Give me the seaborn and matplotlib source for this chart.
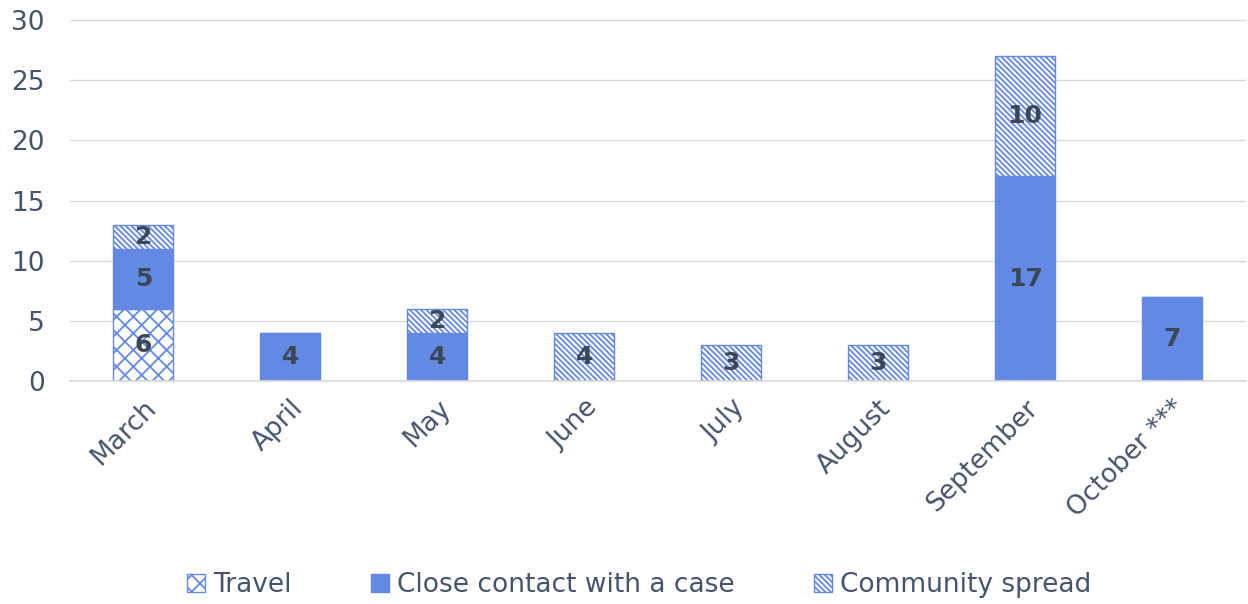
import pandas as pd
import numpy as np
import matplotlib
matplotlib.use('Agg')
import matplotlib.pyplot as plt
import seaborn as sns

# Monthly case counts by source of infection
months = ['March', 'April', 'May', 'June', 'July', 'August', 'September', 'October ***']
travel = [6, 0, 0, 0, 0, 0, 0, 0]
close_contact = [5, 4, 4, 0, 0, 0, 17, 7]
community = [2, 0, 2, 4, 3, 3, 10, 0]

blue = '#6489E3'
text_col = '#44546A'

sns.set_theme(style='white')
plt.rcParams['font.family'] = ['DejaVu Sans']
plt.rcParams['hatch.color'] = blue
plt.rcParams['hatch.linewidth'] = 1.3

df = pd.DataFrame({'Month': months, 'Travel': travel,
                   'Close contact with a case': close_contact,
                   'Community spread': community})

fig = plt.figure(figsize=(12.48, 6.04), dpi=100)
ax = fig.add_axes([0.056, 0.369, 0.942, 0.598])

series = [('Travel', 'white', 'xx'),
          ('Close contact with a case', blue, None),
          ('Community spread', 'white', '\\\\\\\\\\\\')]

bottom = np.zeros(len(months))
for name, fc, hatch in series:
    vals = df[name].to_numpy()
    sns.barplot(data=df, x='Month', y=name, ax=ax, color=fc, saturation=1,
                width=0.41, bottom=bottom, edgecolor=blue, linewidth=1,
                hatch=hatch, label=name)
    cont = ax.containers[-1]
    labels = [str(v) if v > 0 else '' for v in vals]
    ax.bar_label(cont, labels=labels, label_type='center', fontsize=18,
                 fontweight='bold', color='#3B4656')
    bottom = bottom + vals

ax.set_ylim(0, 30)
ax.set_yticks(range(0, 31, 5))
ax.set_xlim(-0.5, len(months) - 0.5)
ax.yaxis.grid(True, color='#D9D9D9', linewidth=1)
ax.set_axisbelow(True)
for s in ['top', 'right', 'left']:
    ax.spines[s].set_visible(False)
ax.spines['bottom'].set_color('#D9D9D9')
ax.set_xlabel('')
ax.set_ylabel('')
ax.tick_params(axis='y', labelsize=19, labelcolor=text_col, length=0, pad=18)
ax.tick_params(axis='x', labelsize=19, labelcolor=text_col, length=0, pad=10)
plt.setp(ax.get_xticklabels(), rotation=45, ha='right', rotation_mode='anchor')
if ax.get_legend() is not None:
    ax.get_legend().remove()

handles, lbls = ax.get_legend_handles_labels()
fig.legend(handles, lbls, loc='lower center', ncol=3, frameon=False,
           fontsize=19, labelcolor=text_col, bbox_to_anchor=(0.512, -0.03),
           handlelength=0.7, handleheight=0.7, handletextpad=0.3, columnspacing=3.0)

fig.savefig('out.png', dpi=100)
